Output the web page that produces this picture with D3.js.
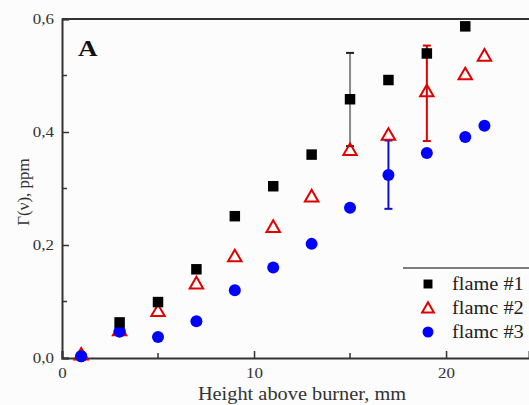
<!DOCTYPE html>
<html>
<head>
<meta charset="utf-8">
<script src="https://cdn.jsdelivr.net/npm/d3@7"></script>
<style>
  body { margin: 0; background: #fcfcfc; }
  svg { display: block; font-family: "Liberation Serif", "Times New Roman", serif; }
</style>
</head>
<body>
<svg id="chart"></svg>
<script>
const width = 529;
const height = 405;
const margin = { top: 19, right: 0, bottom: 47, left: 62 };

// data
const x1 = [3, 5, 7, 9, 11, 13, 15, 17, 19, 21];
const flame1 = [0.063, 0.099, 0.157, 0.251, 0.304, 0.360, 0.458, 0.492, 0.539, 0.587];
const x2 = [1, 3, 5, 7, 9, 11, 13, 15, 17, 19, 21, 22];
const flame2 = [0.004, 0.047, 0.081, 0.130, 0.178, 0.230, 0.284, 0.366, 0.393, 0.470, 0.500, 0.533];
const x3 = [1, 3, 5, 7, 9, 11, 13, 15, 17, 19, 21, 22];
const flame3 = [0.003, 0.047, 0.037, 0.065, 0.120, 0.160, 0.202, 0.266, 0.324, 0.363, 0.391, 0.411];
// error bars: [x, low, high]
const err1 = [[15, 0.375, 0.540]];
const err2 = [[19, 0.384, 0.553]];
const err3 = [[17, 0.264, 0.385]];
const legendLabels = ["flame #1", "flamc #2", "flamc #3"];
const yTicks = [0, 0.2, 0.4, 0.6];
const xTicks = [0, 10, 20];

const x = d3.scaleLinear().domain([0, 24.32]).range([margin.left, width - margin.right]);
const y = d3.scaleLinear().domain([0, 0.6]).range([height - margin.bottom, margin.top]);

const svg = d3.select("#chart").attr("width", width).attr("height", height);
const axisColor = "#333";
const fmt = d3.format(".1f");

// minor ticks (inward)
const xMinor = [5, 15, 25];
const yMinor = [0.1, 0.3, 0.5];

const xAxis = d3.axisBottom(x).tickValues(xTicks).tickSize(-7).tickPadding(9);
const yAxis = d3.axisLeft(y).tickValues(yTicks).tickFormat(d => fmt(d).replace(".", ",")).tickSize(-7).tickPadding(8);

const gx = svg.append("g").attr("transform", `translate(0,${height - margin.bottom})`).call(xAxis);
gx.append("g").selectAll("line").data(xMinor).join("line")
  .attr("x1", d => x(d)).attr("x2", d => x(d)).attr("y1", 0).attr("y2", -5);

const gy = svg.append("g").attr("transform", `translate(${margin.left},0)`).call(yAxis);
gy.append("g").selectAll("line").data(yMinor).join("line")
  .attr("x1", 0).attr("x2", 5).attr("y1", d => y(d)).attr("y2", d => y(d));

for (const g of [gx, gy]) {
  g.attr("font-family", null);
  g.select(".domain").attr("stroke", axisColor).attr("stroke-width", 2);
  g.selectAll("line").attr("stroke", axisColor).attr("stroke-width", 1.5);
  g.selectAll("text").attr("fill", "#333").style("font-size", "15px");
}

// top frame line
svg.append("line")
  .attr("x1", x(0)).attr("x2", width).attr("y1", y(0.6)).attr("y2", y(0.6))
  .attr("stroke", axisColor).attr("stroke-width", 2);

// axis titles
svg.append("text")
  .attr("x", 302).attr("y", 400)
  .attr("text-anchor", "middle").attr("fill", "#333").style("font-size", "18px")
  .text("Height above burner, mm");

svg.append("text").attr("class", "rot")
  .attr("transform", "translate(29,192) rotate(-90)")
  .attr("text-anchor", "middle").attr("fill", "#333").style("font-size", "17px")
  .text("Γ(ν), ppm");

svg.append("text")
  .attr("x", 78).attr("y", 56)
  .style("font-size", "24px").style("font-weight", "bold").attr("fill", "#111")
  .text("A");

// error bars
function errorBars(data, color, capColor) {
  const g = svg.append("g");
  data.forEach(([xv, lo, hi]) => {
    g.append("line").attr("x1", x(xv)).attr("x2", x(xv)).attr("y1", y(lo)).attr("y2", y(hi))
      .attr("stroke", color).attr("stroke-width", 2);
    [lo, hi].forEach(v => g.append("line")
      .attr("x1", x(xv) - 4).attr("x2", x(xv) + 4).attr("y1", y(v)).attr("y2", y(v))
      .attr("stroke", capColor).attr("stroke-width", 2));
  });
}
errorBars(err1, "#888", "#222");
errorBars(err3, "#1010cc", "#1010cc");
errorBars(err2, "#e00000", "#e00000");

const sq = d3.symbol().type(d3.symbolSquare).size(110);
const tri = d3.symbol().type(d3.symbolTriangle).size(78);

const pts3 = x3.map((d, i) => [d, flame3[i]]);

// flame #3 circles
svg.append("g").selectAll("circle").data(pts3).join("circle")
  .attr("cx", d => x(d[0])).attr("cy", d => y(d[1])).attr("r", 6).attr("fill", "#0000ff");

// flame #2 triangles
svg.append("g").selectAll("path").data(x2.map((d, i) => [d, flame2[i]])).join("path")
  .attr("d", tri).attr("transform", d => `translate(${x(d[0])},${y(d[1])})`)
  .attr("fill", "none").attr("stroke", "#e00000").attr("stroke-width", 2);

// circles at 1 and 3 sit over the triangles in the figure
svg.append("g").selectAll("circle").data(pts3.filter(d => d[0] <= 3)).join("circle")
  .attr("cx", d => x(d[0])).attr("cy", d => y(d[1])).attr("r", 6).attr("fill", "#0000ff");

// flame #1 squares
svg.append("g").selectAll("path").data(x1.map((d, i) => [d, flame1[i]])).join("path")
  .attr("d", sq).attr("transform", d => `translate(${x(d[0])},${y(d[1])})`)
  .attr("fill", "#000");

// legend
const lg = svg.append("g");
lg.append("line").attr("x1", 403).attr("x2", width).attr("y1", 268).attr("y2", 268)
  .attr("stroke", "#555").attr("stroke-width", 1.5);
const rows = [284, 308, 332];
lg.append("path").attr("d", d3.symbol().type(d3.symbolSquare).size(80))
  .attr("transform", `translate(428,${rows[0]})`).attr("fill", "#000");
lg.append("path").attr("d", d3.symbol().type(d3.symbolTriangle).size(60))
  .attr("transform", `translate(428,${rows[1] + 1})`).attr("fill", "none").attr("stroke", "#e00000").attr("stroke-width", 2);
lg.append("circle").attr("cx", 428).attr("cy", rows[2]).attr("r", 5.5).attr("fill", "#0000ff");
lg.selectAll("text").data(legendLabels).join("text")
  .attr("x", 452).attr("y", (d, i) => rows[i]).attr("dy", "0.35em")
  .attr("fill", "#222").style("font-size", "18px")
  .text(d => d);

// the original figure is a bit wider than tall: stretch horizontal text
svg.selectAll("text").filter(function () { return !this.classList.contains("rot"); })
  .each(function () {
    const L = this.getComputedTextLength();
    d3.select(this).attr("textLength", L * 1.13).attr("lengthAdjust", "spacingAndGlyphs");
  });
</script>
</body>
</html>
